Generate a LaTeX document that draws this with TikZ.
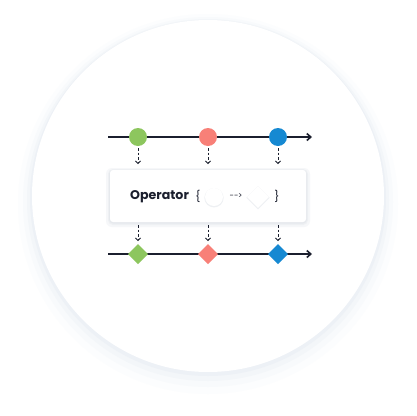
\documentclass[tikz,border=0pt]{standalone}
\usepackage{fontspec}
\setmainfont{Poppins}
\usetikzlibrary{shapes.geometric,arrows.meta}
\definecolor{ink}{HTML}{1B1F2E}
\definecolor{cgreen}{HTML}{8DC65E}
\definecolor{cred}{HTML}{F88078}
\definecolor{cblue}{HTML}{1689D2}
\definecolor{sh1}{HTML}{FCFDFE}
\definecolor{sh2}{HTML}{F8FAFC}
\definecolor{sh3}{HTML}{F3F6F9}
\definecolor{sh4}{HTML}{EDF1F6}
\definecolor{bs1}{HTML}{F6F7F9}
\definecolor{bs2}{HTML}{EEF0F3}
\definecolor{bs3}{HTML}{E6E9ED}
\tikzset{
  timeline/.style={draw=ink, line width=1.6pt, -{Straight Barb[length=4pt,width=7pt,line width=1.6pt]}},
  marble/.style={circle, minimum size=18pt, inner sep=0pt, outer sep=0pt},
  gem/.style={diamond, minimum size=20pt, inner sep=0pt, outer sep=0pt},
  flow/.style={draw=ink, line width=0.8pt, dash pattern=on 2.5pt off 2pt, -{Straight Barb[length=2.5pt,width=5pt,line width=0.8pt]}},
}
\begin{document}
\begin{tikzpicture}[x=1pt,y=-1pt]
\useasboundingbox (0,0) rectangle (416,416);
\fill[white] (0,0) rectangle (416,416);
% soft shadow of the big disc
\fill[sh1] (208,204) circle (190);
\fill[sh2] (208,202) circle (185);
\fill[sh3] (208,200) circle (181);
\fill[sh4] (208,198) circle (178);
\fill[white] (208,196) circle (176);
% top timeline
\coordinate (ts) at (108,137);
\coordinate (te) at (312,137);
\draw[timeline] (ts) -- (te);
\node[marble, fill=cgreen] (m1) at (138,137) {};
\node[marble, fill=cred] (m2) at (208,137) {};
\node[marble, fill=cblue] (m3) at (278,137) {};
% operator box with soft shadow
\fill[bs1, rounded corners=6pt] (106,168) rectangle (310,227);
\fill[bs2, rounded corners=5pt] (108,169) rectangle (308,225);
\fill[bs3, rounded corners=4pt] (109,170) rectangle (307,223.5);
\node[fill=white, rounded corners=3pt, minimum width=196pt, minimum height=52pt, inner sep=0pt, outer sep=0pt] (op) at (208,196) {};
\node[anchor=west, inner sep=0pt, font=\bfseries\fontsize{12.6}{12.6}\selectfont, text=ink] (opt) at (130,197) {Operator};
\node[inner sep=0pt, font=\fontsize{11}{11}\selectfont, text=ink] (lb) at (198,196.5) {\{};
\fill[bs2] (214,197.8) circle (9.6);
\node[circle, minimum size=18pt, inner sep=0pt, fill=white] (wc) at (214,197) {};
\node[inner sep=0pt, font=\fontsize{8}{8}\selectfont, text=ink] (ar) at (236,196) {-\kern0.3pt-\kern-0.5pt\raisebox{0.3pt}{>}};
\node[diamond, minimum size=23.5pt, inner sep=0pt, fill=bs2] at (258,197.8) {};
\node[diamond, minimum size=22pt, inner sep=0pt, fill=white] (wd) at (258,197) {};
\node[inner sep=0pt, font=\fontsize{11}{11}\selectfont, text=ink] (rb) at (277,196.5) {\}};
% bottom timeline
\coordinate (bs) at (108,254);
\coordinate (be) at (312,254);
\draw[timeline] (bs) -- (be);
\node[gem, fill=cgreen] (d1) at (138,254) {};
\node[gem, fill=cred] (d2) at (208,254) {};
\node[gem, fill=cblue] (d3) at (278,254) {};
% dashed flows
\foreach \i in {1,2,3}{
  \draw[flow] ([yshift=-2pt]m\i.south) -- ([yshift=6pt]m\i.south |- op.north);
  \draw[flow] ([yshift=-3pt]op.south -| d\i.north) -- ([yshift=3pt]d\i.north);
}
\end{tikzpicture}
\end{document}
